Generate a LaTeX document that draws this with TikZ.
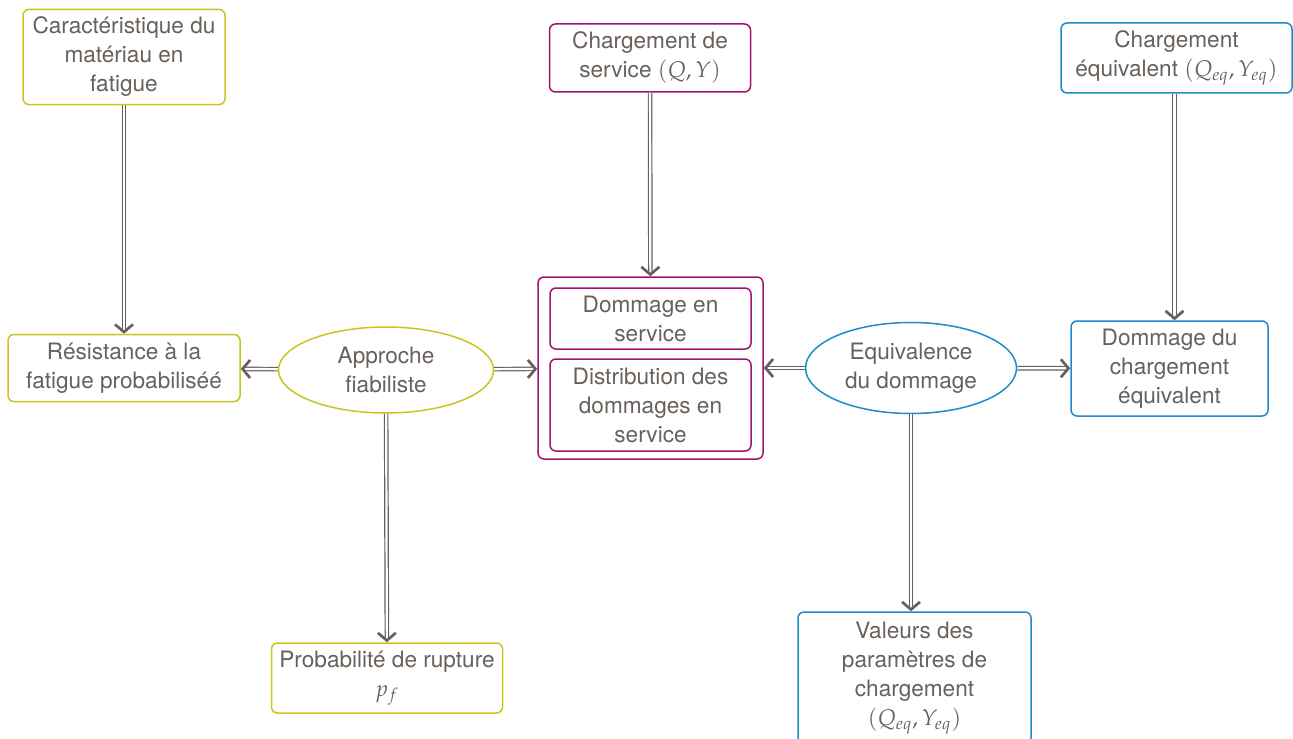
\documentclass[tikz,border=0pt]{standalone}
\usepackage{mathpazo}
\usepackage{fontspec}
\setmainfont{TeX Gyre Heros}
\usetikzlibrary{arrows.meta,shapes.geometric}
\definecolor{txtgray}{RGB}{104,96,90}
\definecolor{lineyel}{RGB}{200,198,30}
\definecolor{linepur}{RGB}{160,20,110}
\definecolor{lineblu}{RGB}{28,138,203}
\begin{document}
\begin{tikzpicture}[x=0.5pt,y=-0.5pt,
    every node/.style={text=txtgray,align=center,inner sep=0pt,
      font=\fontsize{11.3}{14.5}\selectfont},
    box/.style={draw,rounded corners=3pt,line width=0.75pt},
    ybox/.style={box,draw=lineyel},
    pbox/.style={box,draw=linepur},
    bbox/.style={box,draw=lineblu},
    yell/.style={ellipse,draw=lineyel,line width=0.75pt},
    bell/.style={ellipse,draw=lineblu,line width=0.75pt},
    flow/.style={draw=txtgray,double=white,line width=0.6pt,double distance=1.1pt,
      -{Straight Barb[length=3.8pt,width=9pt,line width=1.35pt]}}]
    \useasboundingbox (0,0) rectangle (1293,738);
    % yellow branch
    \node[ybox,minimum width=101pt,minimum height=47.5pt] (car) at (124,57) {Caractéristique du\\matériau en\\fatigue};
    \node[ybox,minimum width=116pt,minimum height=33.5pt] (res) at (124,368) {Résistance à la\\fatigue probabiliséé};
    \node[yell,minimum width=107.5pt,minimum height=43pt] (appr) at (386,370) {Approche\\fiabiliste};
    \node[ybox,minimum width=115.5pt,minimum height=35pt] (prob) at (387,678) {Probabilité de rupture\\$p_f$};
    % purple branch
    \node[pbox,minimum width=100.5pt,minimum height=34pt] (cserv) at (650,58) {Chargement de\\service $(Q,Y)$};
    \node[pbox,minimum width=112.5pt,minimum height=91pt] (dom) at (650.5,368) {};
    \node[pbox,minimum width=100.5pt,minimum height=30.5pt] (dserv) at (650.5,318.5) {Dommage en\\service};
    \node[pbox,minimum width=100.5pt,minimum height=46pt] (distr) at (650.5,405) {Distribution des\\dommages en\\service};
    % blue branch
    \node[bell,minimum width=105.5pt,minimum height=45.5pt] (equiv) at (911,368) {Equivalence\\du dommage};
    \node[bbox,minimum width=98.5pt,minimum height=47.5pt] (dceq) at (1169.5,368.5) {Dommage du\\chargement\\équivalent};
    \node[bbox,minimum width=115.5pt,minimum height=35pt] (ceq) at (1176.5,58) {Chargement\\équivalent $(Q_{eq},Y_{eq})$};
    \node[bbox,minimum width=116.5pt,minimum height=66pt] (val) at (914.5,678) {Valeurs des\\paramètres de\\chargement\\$(Q_{eq},Y_{eq})$};
    % connectors
    \draw[flow] (car) -- (res);
    \draw[flow] (appr) -- (res);
    \draw[flow] (appr) -- (dom);
    \draw[flow] (appr) -- (prob);
    \draw[flow] (cserv) -- (dom);
    \draw[flow] (equiv) -- (dom);
    \draw[flow] (equiv) -- (dceq);
    \draw[flow] (equiv.south) -- (equiv.south |- val.north);
    \draw[flow] ([xshift=2.5pt]ceq.south -| dceq.north) -- ([xshift=2.5pt]dceq.north);
\end{tikzpicture}
\end{document}
